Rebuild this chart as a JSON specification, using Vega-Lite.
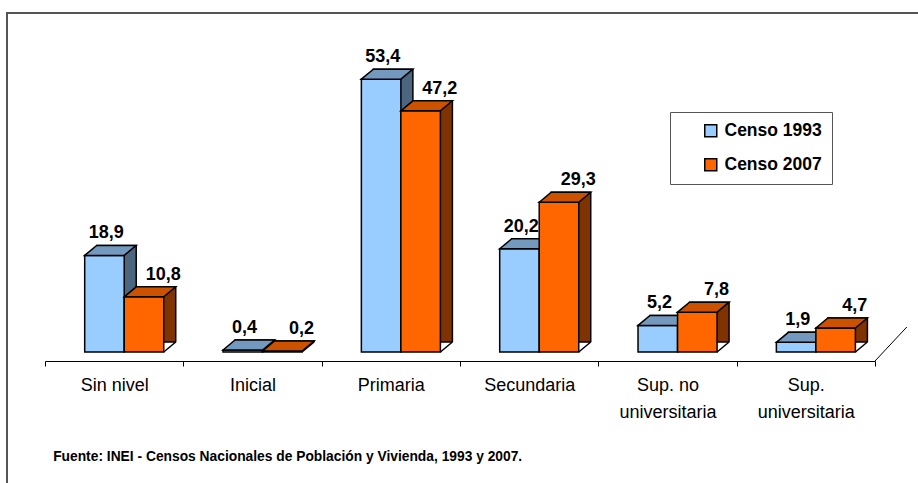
{
  "$schema": "https://vega.github.io/schema/vega-lite/v6.json",
  "width": 923,
  "height": 487,
  "autosize": "none",
  "padding": {"left": 7, "top": 13, "right": 0, "bottom": 0},
  "title": {"text": "(Porcentaje)", "anchor": "middle", "offset": 12, "baseline": "alphabetic", "font": "Liberation Sans", "fontSize": 18, "fontWeight": "bold", "color": "black"},
  "config": {
    "view": {"stroke": "#555555", "strokeWidth": 2},
    "locale": {"number": {"decimal": ",", "thousands": ".", "grouping": [3], "currency": ["", " €"]}}
  },
  "data": {"values": [
    {"cat": "Sin nivel", "serie": "Censo 1993", "value": 18.9},
    {"cat": "Inicial", "serie": "Censo 1993", "value": 0.4},
    {"cat": "Primaria", "serie": "Censo 1993", "value": 53.4},
    {"cat": "Secundaria", "serie": "Censo 1993", "value": 20.2},
    {"cat": "Sup. no universitaria", "serie": "Censo 1993", "value": 5.2},
    {"cat": "Sup. universitaria", "serie": "Censo 1993", "value": 1.9},
    {"cat": "Sin nivel", "serie": "Censo 2007", "value": 10.8},
    {"cat": "Inicial", "serie": "Censo 2007", "value": 0.2},
    {"cat": "Primaria", "serie": "Censo 2007", "value": 47.2},
    {"cat": "Secundaria", "serie": "Censo 2007", "value": 29.3},
    {"cat": "Sup. no universitaria", "serie": "Censo 2007", "value": 7.8},
    {"cat": "Sup. universitaria", "serie": "Censo 2007", "value": 4.7}
  ]},
  "encoding": {
    "x": {
      "field": "cat", "type": "nominal",
      "sort": ["Sin nivel", "Inicial", "Primaria", "Secundaria", "Sup. no universitaria", "Sup. universitaria"],
      "scale": {"range": [38, 868], "paddingInner": 0, "paddingOuter": 0},
      "axis": {
        "title": null, "orient": "bottom", "offset": -139, "grid": false,
        "domainColor": "black", "domainWidth": 1,
        "tickBand": "extent", "tickColor": "black", "tickWidth": 1, "tickSize": 5,
        "labelAngle": 0, "labelFont": "Liberation Sans",
        "labelFontSize": 18, "labelColor": "black", "labelPadding": 10, "labelLineHeight": 27, "labelLimit": 0,
        "labelExpr": "datum.label == 'Sup. no universitaria' ? ['Sup. no', 'universitaria'] : datum.label == 'Sup. universitaria' ? ['Sup.', 'universitaria'] : datum.label"
      }
    }
  },
  "layer": [
    {
      "transform": [{"filter": "datum.serie === 'Censo 1993'"}],
      "encoding": {"y": {"field": "value", "type": "quantitative", "scale": {"domain": [-28.96, 66.34], "nice": false}, "axis": null}},
      "layer": [
        {"mark": {"type": "bar", "width": 39.52, "xOffset": 2.29, "yOffset": -10, "fill": "#4d6680", "stroke": "black", "strokeWidth": 1.5}},
        {"mark": {"type": "point", "xOffset": -9.71, "shape": "M19.76,0.3L31.76,-9.7L33.2,-9.7L33.2,1.3L19,1.3Z", "size": 4, "filled": true, "fill": "white", "strokeWidth": 0, "opacity": 1}, "encoding": {"y": {"datum": 0}}},
        {"mark": {"type": "point", "xOffset": -9.71, "shape": "M19.76,0L31.76,-10", "size": 4, "filled": false, "fill": null, "stroke": "black", "strokeWidth": 1.5, "opacity": 1}, "encoding": {"y": {"datum": 0}}},
        {"mark": {"type": "bar", "width": 39.52, "xOffset": -9.71, "stroke": "black", "strokeWidth": 1.5},
         "encoding": {"fill": {"field": "serie", "type": "nominal",
           "scale": {"domain": ["Censo 1993", "Censo 2007"], "range": ["#99ccff", "#ff6600"]},
           "legend": {"title": null, "orient": "none", "legendX": 663, "legendY": 99, "direction": "vertical", "padding": 10,
             "strokeColor": "#555555", "fillColor": "white", "symbolType": "square", "symbolSize": 144,
             "symbolStrokeColor": "black", "symbolStrokeWidth": 1.5, "symbolOffset": 22,
             "labelFont": "Liberation Sans",
             "labelFontSize": 17.5, "labelFontWeight": "bold", "labelColor": "black", "rowPadding": 15, "labelOffset": 5,
             "labelExpr": "datum.label + '    '"}}}},
        {"mark": {"type": "point", "xOffset": -9.71, "shape": "M-19.76,0L-7.76,-10L31.76,-10L19.76,0Z", "size": 4, "filled": true, "fill": "#7399bf", "stroke": "black", "strokeWidth": 1.5, "opacity": 1}}
      ]
    },
    {
      "transform": [{"filter": "datum.serie === 'Censo 2007'"}],
      "encoding": {"y": {"field": "value", "type": "quantitative", "scale": {"domain": [-28.96, 66.34], "nice": false}, "axis": null}},
      "layer": [
        {"mark": {"type": "bar", "width": 39.52, "xOffset": 41.81, "yOffset": -10, "fill": "#7f3300", "stroke": "black", "strokeWidth": 1.5}},
        {"mark": {"type": "point", "xOffset": 29.81, "shape": "M19.76,0.3L31.76,-9.7L33.2,-9.7L33.2,1.3L19,1.3Z", "size": 4, "filled": true, "fill": "white", "strokeWidth": 0, "opacity": 1}, "encoding": {"y": {"datum": 0}}},
        {"mark": {"type": "point", "xOffset": 29.81, "shape": "M19.76,0L31.76,-10", "size": 4, "filled": false, "fill": null, "stroke": "black", "strokeWidth": 1.5, "opacity": 1}, "encoding": {"y": {"datum": 0}}},
        {"mark": {"type": "bar", "width": 39.52, "xOffset": 29.81, "stroke": "black", "strokeWidth": 1.5},
         "encoding": {"fill": {"field": "serie", "type": "nominal", "scale": {"domain": ["Censo 1993", "Censo 2007"], "range": ["#99ccff", "#ff6600"]}}}},
        {"mark": {"type": "point", "xOffset": 29.81, "shape": "M-19.76,0L-7.76,-10L31.76,-10L19.76,0Z", "size": 4, "filled": true, "fill": "#cc5200", "stroke": "black", "strokeWidth": 1.5, "opacity": 1}}
      ]
    },
    {
      "transform": [{"filter": "datum.serie === 'Censo 1993'"}],
      "mark": {"type": "text", "dx": -8, "dy": -17, "baseline": "alphabetic", "align": "center", "font": "Liberation Sans", "fontSize": 18, "fontWeight": "bold", "color": "black"},
      "encoding": {
        "y": {"field": "value", "type": "quantitative", "scale": {"domain": [-28.96, 66.34], "nice": false}, "axis": null},
        "text": {"field": "value", "type": "quantitative", "format": ".1f"}
      }
    },
    {
      "transform": [{"filter": "datum.serie === 'Censo 2007'"}],
      "mark": {"type": "text", "dx": 49, "dy": -17, "baseline": "alphabetic", "align": "center", "font": "Liberation Sans", "fontSize": 18, "fontWeight": "bold", "color": "black"},
      "encoding": {
        "y": {"field": "value", "type": "quantitative", "scale": {"domain": [-28.96, 66.34], "nice": false}, "axis": null},
        "text": {"field": "value", "type": "quantitative", "format": ".1f"}
      }
    },
    {
      "data": {"values": [{"cat": "Sup. universitaria"}]},
      "mark": {"type": "point", "shape": "M69.17,9L101,-25", "size": 4, "filled": false, "fill": null, "stroke": "black", "strokeWidth": 1, "opacity": 1},
      "encoding": {"y": {"datum": 0, "type": "quantitative"}}
    },
    {
      "data": {"values": [{"cat": "Sin nivel", "t": "Fuente: INEI - Censos Nacionales  de Población y Vivienda, 1993 y 2007."}]},
      "mark": {"type": "text", "align": "left", "baseline": "alphabetic", "dx": -61, "font": "Liberation Sans", "fontSize": 13.8, "fontWeight": "bold", "color": "black"},
      "encoding": {"y": {"datum": -21.3, "type": "quantitative"}, "text": {"field": "t"}}
    }
  ]
}
